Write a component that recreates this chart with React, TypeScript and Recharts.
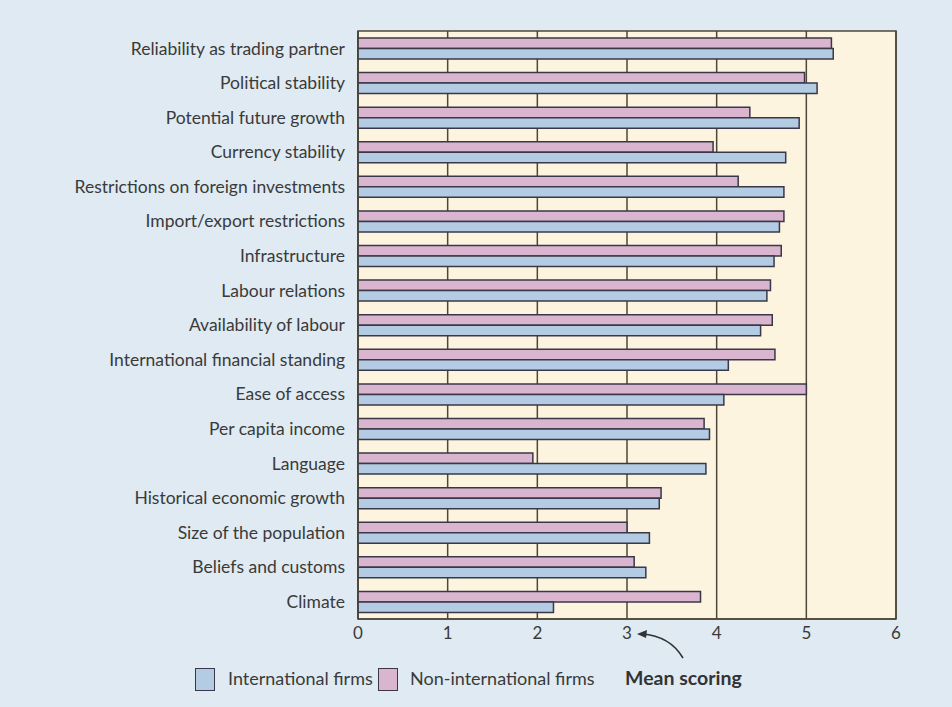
import React from "react";
import { BarChart, Bar, XAxis, YAxis, CartesianGrid, ReferenceArea } from "recharts";

const categories = [
  "Reliability as trading partner",
  "Political stability",
  "Potential future growth",
  "Currency stability",
  "Restrictions on foreign investments",
  "Import/export restrictions",
  "Infrastructure",
  "Labour relations",
  "Availability of labour",
  "International financial standing",
  "Ease of access",
  "Per capita income",
  "Language",
  "Historical economic growth",
  "Size of the population",
  "Beliefs and customs",
  "Climate",
];

const international = [5.3, 5.12, 4.92, 4.77, 4.75, 4.7, 4.64, 4.56, 4.49, 4.13, 4.08, 3.92, 3.88, 3.36, 3.25, 3.21, 2.18];
const nonInternational = [5.28, 4.98, 4.37, 3.96, 4.24, 4.75, 4.72, 4.6, 4.62, 4.65, 5.0, 3.86, 1.95, 3.38, 3.0, 3.08, 3.82];

const xTicks = [0, 1, 2, 3, 4, 5, 6];
const seriesNames = ["International firms", "Non-international firms"];
const annotation = "Mean scoring";

const data = categories.map((c, i) => ({
  category: c,
  international: international[i],
  nonInternational: nonInternational[i],
}));

const FONT = "Lato, 'Open Sans', sans-serif";
const BLUE = "#b3cbe3";
const PINK = "#d9b5cf";
const EDGE = "#3a3848";
const GRID = "#4e4638";
const TEXT = "#3a3a3a";

const boxStyle = (bg: string): React.CSSProperties => ({
  position: "absolute",
  width: 18,
  height: 21,
  background: bg,
  border: `1.5px solid ${EDGE}`,
});

export default function App() {
  return (
    <div style={{ position: "absolute", left: 0, top: 0, width: 952, height: 707, background: "#dfeaf3", fontFamily: FONT }}>
      <BarChart
        width={952}
        height={707}
        layout="vertical"
        data={data}
        margin={{ top: 31, right: 56, bottom: 58, left: 0 }}
        barGap={0}
        barSize={10.5}
      >
        <CartesianGrid horizontal={false} vertical={true} stroke={GRID} strokeWidth={1.5} fill="#fdf4df" fillOpacity={1} />
        <ReferenceArea x1={0} x2={6} fill="none" stroke={GRID} strokeWidth={1.5} ifOverflow="extendDomain" />
        <XAxis
          type="number"
          domain={[0, 6]}
          ticks={xTicks}
          tickLine={false}
          tickSize={0}
          tickMargin={8}
          height={30}
          axisLine={{ stroke: GRID, strokeWidth: 1.5 }}
          tick={{ fill: TEXT, fontSize: 17, fontFamily: FONT }}
        />
        <YAxis
          type="category"
          dataKey="category"
          width={358}
          tickLine={false}
          tickSize={0}
          tickMargin={13}
          interval={0}
          axisLine={{ stroke: GRID, strokeWidth: 1.5 }}
          tick={{ fill: TEXT, fontSize: 17.5, fontFamily: FONT }}
        />
        <Bar dataKey="nonInternational" name={seriesNames[1]} fill={PINK} stroke={EDGE} strokeWidth={1.5} isAnimationActive={false} />
        <Bar dataKey="international" name={seriesNames[0]} fill={BLUE} stroke={EDGE} strokeWidth={1.5} isAnimationActive={false} />
      </BarChart>
      <div style={{ position: "absolute", left: 0, top: 0, width: 952, height: 707, fontSize: 18, color: TEXT, whiteSpace: "nowrap", pointerEvents: "none" }}>
        <span style={{ ...boxStyle(BLUE), left: 195, top: 668 }} />
        <span style={{ position: "absolute", left: 228, top: 667 }}>{seriesNames[0]}</span>
        <span style={{ ...boxStyle(PINK), left: 378, top: 668 }} />
        <span style={{ position: "absolute", left: 410, top: 667 }}>{seriesNames[1]}</span>
        <span style={{ position: "absolute", left: 625, top: 666, fontWeight: 700, fontSize: 19.5, color: "#333" }}>{annotation}</span>
      </div>
      <svg style={{ position: "absolute", left: 0, top: 0 }} width={952} height={707}>
        <path d="M 683 658 Q 670 636 642 634" fill="none" stroke="#333" strokeWidth={1.6} />
        <path d="M 637 634 L 647 630 L 646 638 Z" fill="#333" />
      </svg>
    </div>
  );
}
